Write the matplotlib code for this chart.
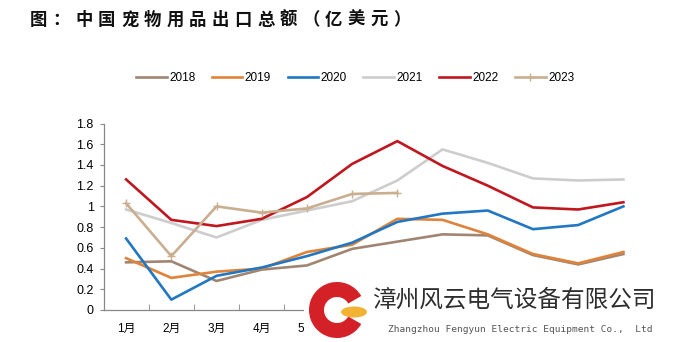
import matplotlib
matplotlib.use("Agg")
import matplotlib.pyplot as plt
from matplotlib.patches import Wedge, Ellipse, Rectangle
from matplotlib.ticker import FuncFormatter, FixedLocator
import numpy as np

plt.rcParams['font.family'] = ['Liberation Sans', 'Noto Sans CJK SC', 'DejaVu Sans']

months = ['1月', '2月', '3月', '4月', '5月', '6月', '7月', '8月', '9月', '10月', '11月', '12月']

y2018 = [0.46, 0.47, 0.28, 0.39, 0.43, 0.59, 0.66, 0.73, 0.72, 0.53, 0.44, 0.54]
y2019 = [0.50, 0.31, 0.37, 0.40, 0.56, 0.63, 0.88, 0.87, 0.73, 0.54, 0.45, 0.56]
y2020 = [0.69, 0.10, 0.33, 0.41, 0.52, 0.65, 0.85, 0.93, 0.96, 0.78, 0.82, 1.00]
y2021 = [0.97, 0.84, 0.70, 0.87, 0.96, 1.05, 1.25, 1.55, 1.42, 1.27, 1.25, 1.26]
y2022 = [1.26, 0.87, 0.81, 0.88, 1.09, 1.41, 1.63, 1.39, 1.20, 0.99, 0.97, 1.04]
y2023 = [1.03, 0.52, 1.00, 0.94, 0.98, 1.12, 1.13]

series = [
    ('2018', y2018, '#a08672', None),
    ('2019', y2019, '#e0833a', None),
    ('2020', y2020, '#2277c2', None),
    ('2021', y2021, '#cdcdcd', None),
    ('2022', y2022, '#c0161d', None),
    ('2023', y2023, '#c9ae90', '+'),
]

W, H = 683, 342
fig = plt.figure(figsize=(W / 100, H / 100), dpi=100)

ax = fig.add_axes([103.5 / W, 1 - 310 / H, (646 - 103.5) / W, (310 - 123.5) / H])
x = np.arange(len(months))
for name, vals, color, marker in series:
    ax.plot(x[:len(vals)], vals, color=color, lw=1.9, label=name,
            marker=marker, markersize=6, markeredgewidth=1.0)

ax.set_xlim(-0.5, len(months) - 0.5)
ax.set_ylim(0, 1.8)
ax.set_yticks(np.arange(0, 1.81, 0.2))
ax.yaxis.set_major_formatter(FuncFormatter(lambda v, p: '%g' % round(v, 1)))
ax.set_xticks(x)
ax.set_xticklabels(months)
# month labels from June on sit under the company banner
for lbl in ax.get_xticklabels()[5:]:
    lbl.set_visible(False)
ax.xaxis.set_minor_locator(FixedLocator(np.arange(0.5, len(months) - 0.5, 1)))
ax.tick_params(axis='x', which='major', length=0, pad=9, labelsize=8.5)
ax.tick_params(axis='x', which='minor', direction='in', length=4, color='#888888')
ax.tick_params(axis='y', length=3, color='#888888', pad=4, labelsize=9)
for s in ['top', 'right']:
    ax.spines[s].set_visible(False)
for s in ['left', 'bottom']:
    ax.spines[s].set_color('#888888')
    ax.spines[s].set_linewidth(0.9)

fig.legend(loc='center', bbox_to_anchor=(355 / W, 1 - 78 / H), ncol=6, frameon=False,
           fontsize=8.5, handlelength=2.6, handletextpad=0.2, columnspacing=1.4)

# title, one glyph per cell
title = '图：中国宠物用品出口总额（亿美元）'
for i, ch in enumerate(title):
    fig.text((30 + 22.7 * i) / W, 1 - 20 / H, ch, fontsize=12.5, fontweight='bold',
             family=['Noto Sans CJK SC'], va='center', ha='left', color='#111111')

# company banner in the lower right
wm = fig.add_axes([0, 0, 1, 1], zorder=10)
wm.set_xlim(0, W)
wm.set_ylim(H, 0)
wm.axis('off')
wm.patch.set_alpha(0)
wm.add_patch(Rectangle((304, 268), W - 304, H - 268, color='white', lw=0))
wm.add_patch(Wedge((337, 310), 28, 30, 330, width=15, color='#d42027', lw=0))
wm.add_patch(Ellipse((354, 312), 26, 11, color='#f2b233', lw=0))
wm.text(373, 300, '漳州风云电气设备有限公司', fontsize=17, family=['Noto Sans CJK SC'],
        fontweight='medium', color='#2e2e2e', va='center', ha='left')
wm.text(388, 330, 'Zhangzhou Fengyun Electric Equipment Co.,  Ltd', fontsize=6.8,
        family=['DejaVu Sans Mono'], color='#555555', va='center', ha='left')

fig.savefig('out.png', dpi=100)
